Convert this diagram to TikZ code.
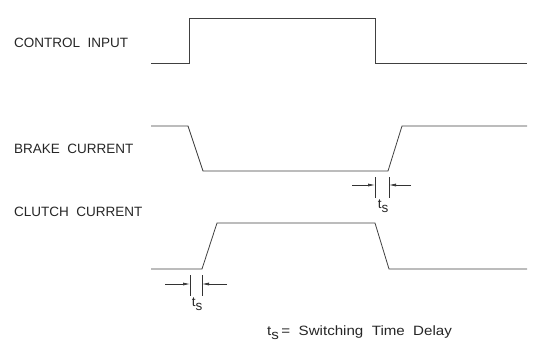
\documentclass[tikz,border=0pt]{standalone}
\usepackage{fontspec}
\setmainfont{Liberation Sans}
\usetikzlibrary{arrows.meta}
\begin{document}
\begin{tikzpicture}[x=1pt,y=-1pt,
  wave/.style={draw=black!75,line width=0.8pt,line join=miter},
  tick/.style={draw=black!80,line width=0.7pt},
  dimarrow/.style={draw=black!80,line width=0.7pt,-{Latex[length=7pt,width=3pt]}},
  lbl/.style={anchor=west,inner sep=0pt,font=\fontsize{13.5}{14}\selectfont,text=black!85},
  tsl/.style={inner sep=0pt,font=\fontsize{13.5}{14}\selectfont,text=black!85}]
\useasboundingbox (0,0) rectangle (539,349);
% labels
\node[lbl] (lc) at (14,43) {CONTROL\ \ INPUT};
\node[lbl] (lb) at (14,149) {BRAKE\ \ CURRENT};
\node[lbl] (lk) at (14,212) {CLUTCH\ \ CURRENT};
% control input
\draw[wave] (151,63) -- (189,63) -- (189,18) -- (375,18) -- (375,63) -- (527,63);
% brake current
\draw[wave] (151,126) -- (188,126) -- (203,171) -- (388,171) -- (402,126) -- (527,126);
% clutch current
\draw[wave] (151,269) -- (202,269) -- (217,223) -- (375,223) -- (389,269) -- (527,269);
% ts marker brake
\coordinate (b1t) at (375,177); \coordinate (b1b) at (375,198);
\coordinate (b2t) at (389,177); \coordinate (b2b) at (389,198);
\draw[tick] (b1t) -- (b1b);
\draw[tick] (b2t) -- (b2b);
\coordinate (b1a) at (352,185); \coordinate (b1e) at (375,185);
\coordinate (b2a) at (411,185); \coordinate (b2e) at (389,185);
\draw[dimarrow] (b1a) -- (b1e);
\draw[dimarrow] (b2a) -- (b2e);
\node[tsl] (tsb) at (383,206) {t\raisebox{-4pt}{s}};
% ts marker clutch
\coordinate (c1t) at (190,275); \coordinate (c1b) at (190,296);
\coordinate (c2t) at (202,275); \coordinate (c2b) at (202,296);
\draw[tick] (c1t) -- (c1b);
\draw[tick] (c2t) -- (c2b);
\coordinate (c1a) at (165,284); \coordinate (c1e) at (190,284);
\coordinate (c2a) at (227,284); \coordinate (c2e) at (202,284);
\draw[dimarrow] (c1a) -- (c1e);
\draw[dimarrow] (c2a) -- (c2e);
\node[tsl] (tsc) at (197,304) {t\raisebox{-4pt}{s}};
% legend
\node[lbl] (leg) at (267,333) {\scalebox{1.12}[1]{t\raisebox{-4pt}{s}\,=\ \ Switching\ \ Time\ \ Delay}};
\end{tikzpicture}
\end{document}
